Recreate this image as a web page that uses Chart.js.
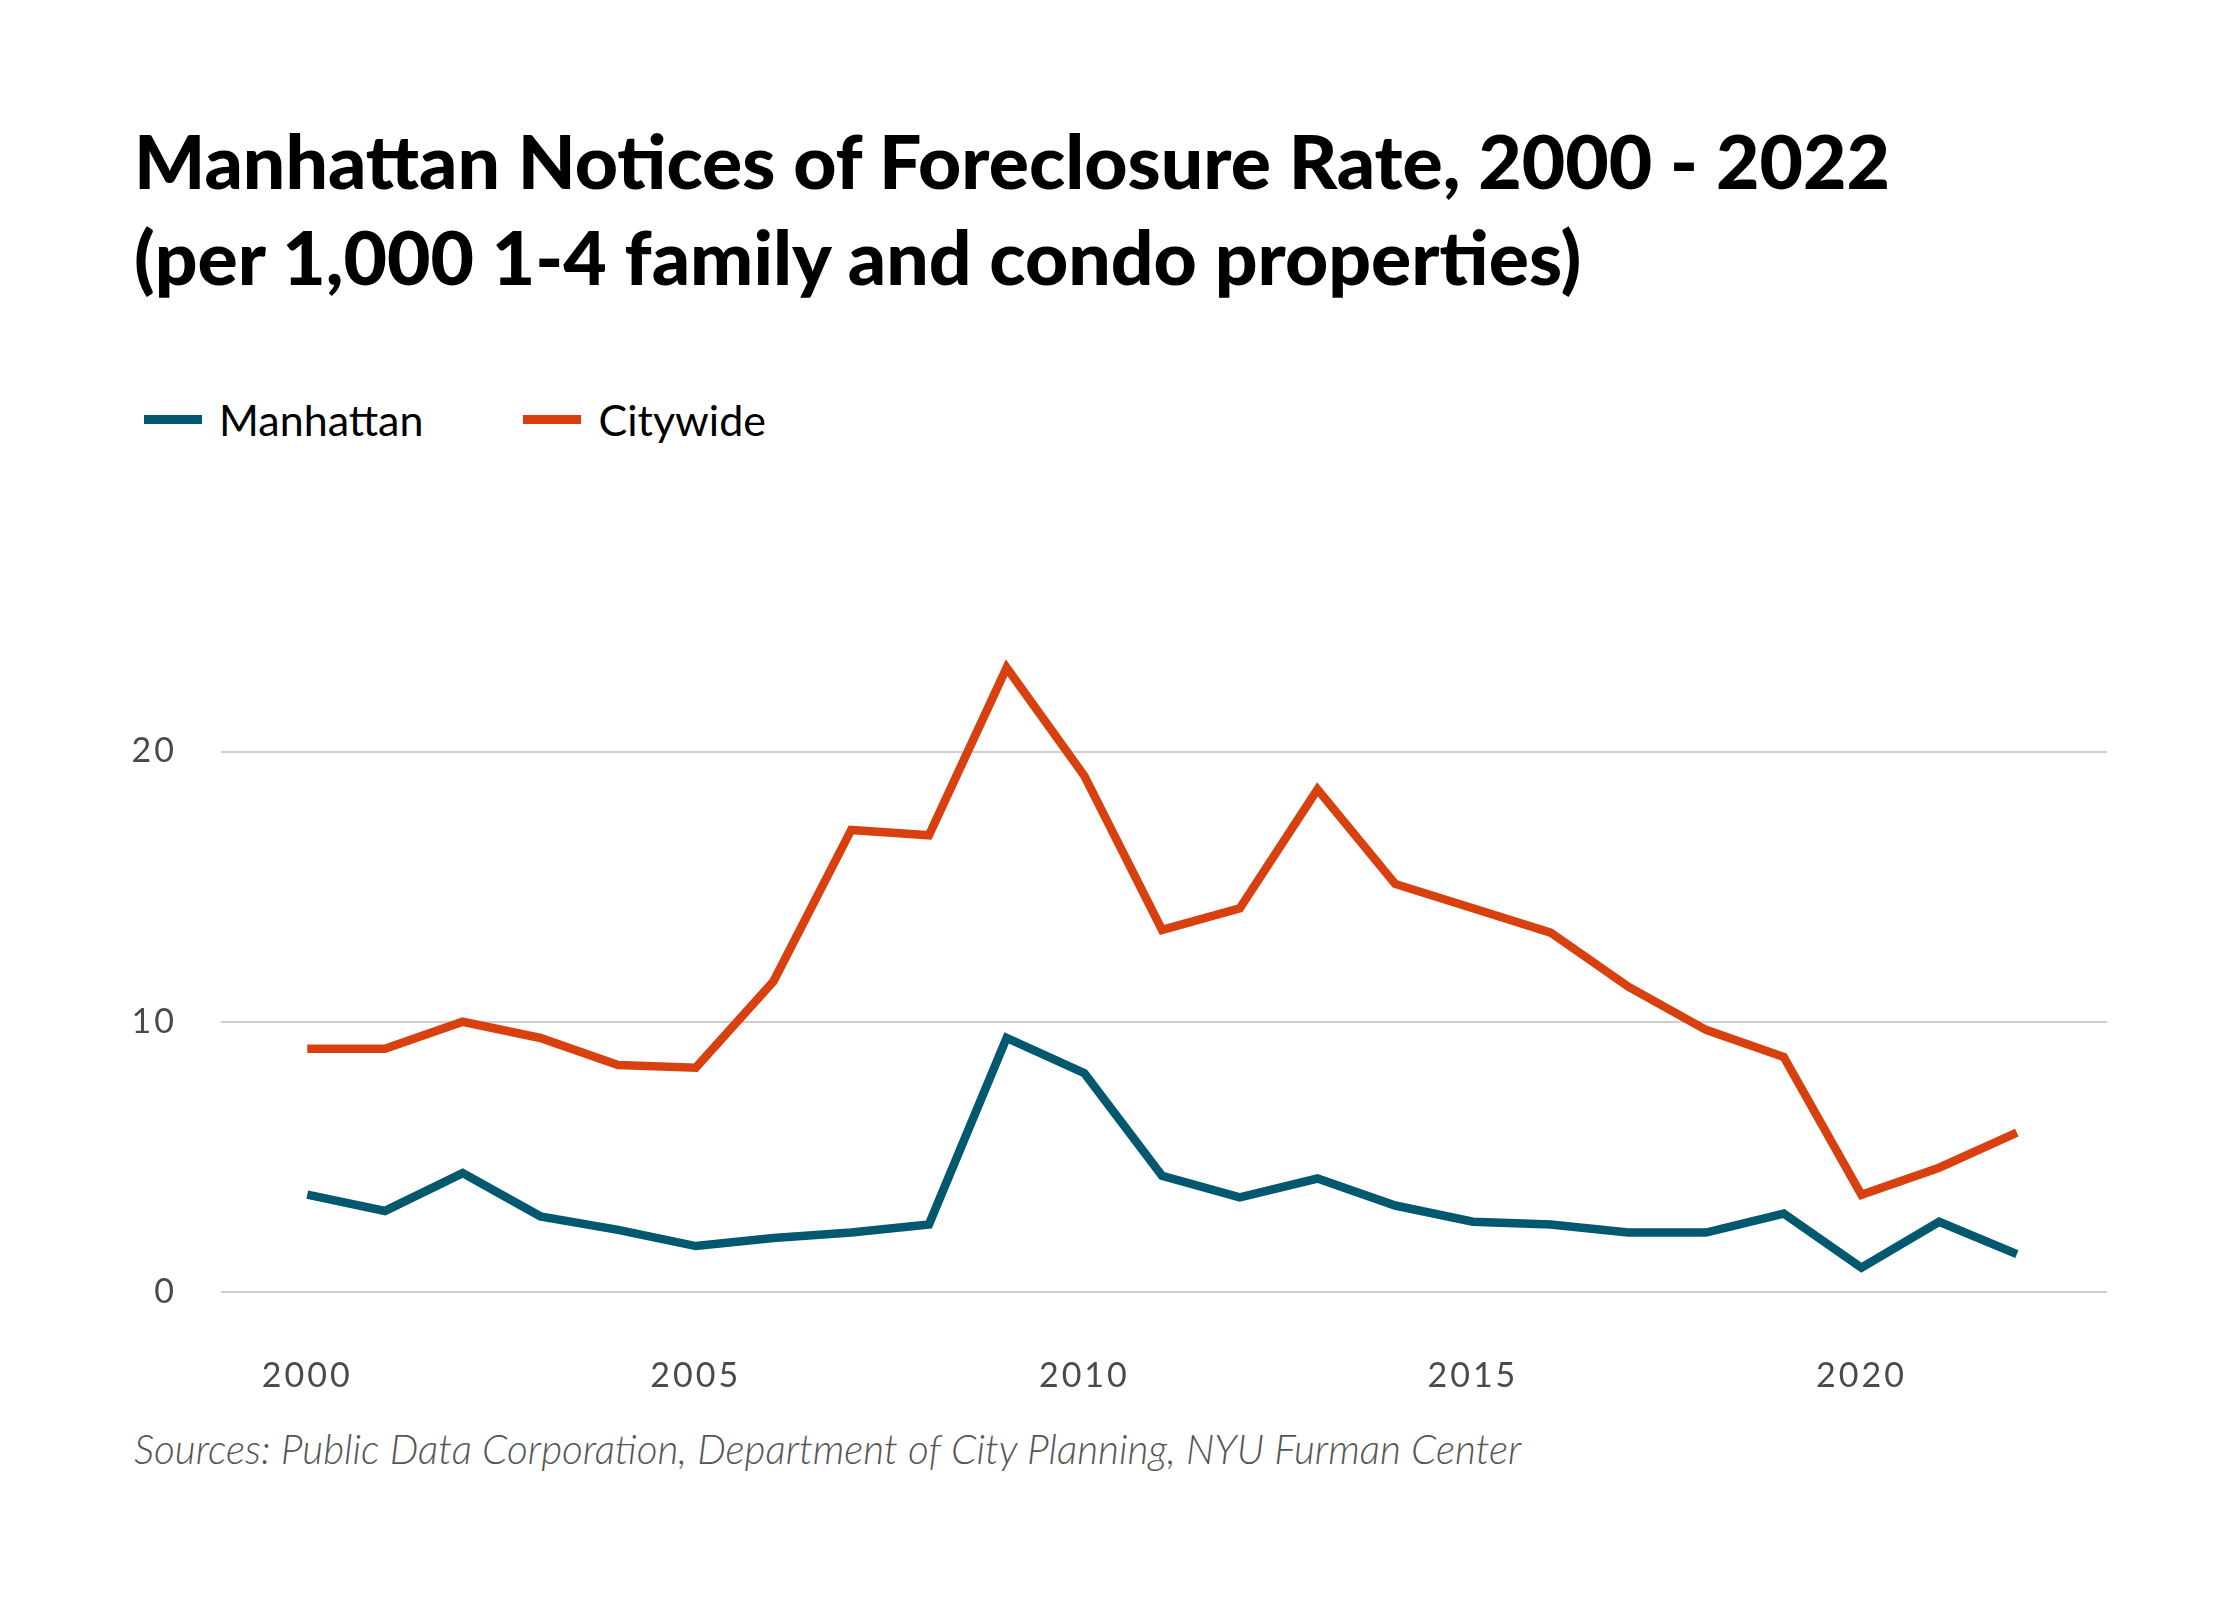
<!DOCTYPE html>
<html>
<head>
<meta charset="utf-8">
<script src="https://cdn.jsdelivr.net/npm/chart.js@4.4.1/dist/chart.umd.min.js"></script>
<style>
  html, body { margin: 0; padding: 0; background: #fff; }
  #page { position: relative; width: 2240px; height: 1600px; background: #fff; overflow: hidden; }
  .title {
    position: absolute; left: 134px; top: 112px; margin: 0;
    font-family: Lato, sans-serif; font-weight: 900; font-size: 75px;
    line-height: 96px; color: #000;
  }
  .legend {
    position: absolute; left: 144px; top: 394px;
    font-family: Lato, sans-serif; font-size: 43px; color: #000;
    display: flex; align-items: center;
  }
  .legend .item { display: flex; align-items: center; margin-right: 100px; }
  .legend .swatch { width: 58px; height: 9px; margin-right: 17px; }
  .source {
    position: absolute; left: 134px; top: 1424px;
    font-family: Lato, sans-serif; font-style: italic; font-weight: 300;
    font-size: 40.5px; color: #555;
  }
  #wrap { position: absolute; left: 0; top: 552px; width: 2240px; height: 850px; }
</style>
</head>
<body>
<div id="page">
  <h1 class="title">Manhattan Notices of Foreclosure Rate, 2000 - 2022<br>(per 1,000 1-4 family and condo properties)</h1>
  <div class="legend" id="legend"></div>
  <div class="source">Sources: Public Data Corporation, Department of City Planning, NYU Furman Center</div>
  <div id="wrap"><canvas id="chart"></canvas></div>
</div>
<script>
// ── Data ──────────────────────────────────────────────────────
const years = [2000, 2001, 2002, 2003, 2004, 2005, 2006, 2007, 2008, 2009, 2010, 2011,
               2012, 2013, 2014, 2015, 2016, 2017, 2018, 2019, 2020, 2021, 2022];
const manhattan = [3.6, 3.0, 4.4, 2.8, 2.3, 1.7, 2.0, 2.2, 2.5, 9.4, 8.1, 4.3,
                   3.5, 4.2, 3.2, 2.6, 2.5, 2.2, 2.2, 2.9, 0.9, 2.6, 1.4];
const citywide = [9.0, 9.0, 10.0, 9.4, 8.4, 8.3, 11.5, 17.1, 16.9, 23.1, 19.1, 13.4,
                  14.2, 18.6, 15.1, 14.2, 13.3, 11.3, 9.7, 8.7, 3.6, 4.6, 5.9];
const xTicks = [2000, 2005, 2010, 2015, 2020];
const yTicks = [0, 10, 20];

const blue = '#01586f';
const red = '#d8410f';

// ── Legend ────────────────────────────────────────────────────
const legend = document.getElementById('legend');
[['Manhattan', blue], ['Citywide', red]].forEach(([name, color]) => {
  const item = document.createElement('div');
  item.className = 'item';
  item.innerHTML = `<span class="swatch" style="background:${color}"></span><span>${name}</span>`;
  legend.appendChild(item);
});

// ── Chart ─────────────────────────────────────────────────────
const toPoints = arr => arr.map((v, i) => ({ x: years[i], y: v }));

// wider tick digits, closer to the reference face
const spacing = {
  id: 'spacing',
  beforeDraw: chart => { chart.ctx.letterSpacing = '3px'; }
};

new Chart(document.getElementById('chart'), {
  type: 'line',
  data: {
    datasets: [
      { label: 'Manhattan', data: toPoints(manhattan), borderColor: blue },
      { label: 'Citywide', data: toPoints(citywide), borderColor: red }
    ]
  },
  plugins: [spacing],
  options: {
    responsive: true, maintainAspectRatio: false, animation: false,
    layout: { padding: { left: 130, right: 133, top: 15, bottom: 0 } },
    elements: {
      line: { borderWidth: 8.5, tension: 0, borderCapStyle: 'butt', borderJoinStyle: 'miter', fill: false },
      point: { radius: 0, hoverRadius: 0 }
    },
    plugins: { legend: { display: false }, tooltip: { enabled: false } },
    scales: {
      x: {
        type: 'linear', min: 1998.89, max: 2023.16,
        afterBuildTicks: s => { s.ticks = xTicks.map(v => ({ value: v })); },
        afterFit: s => { s.height = 110; },
        grid: { display: false, drawTicks: false },
        border: { display: false },
        ticks: {
          padding: 64, color: '#4a4a4a',
          font: { family: 'Lato', size: 34 },
          callback: v => String(v)
        }
      },
      y: {
        min: 0, max: 25,
        afterBuildTicks: s => { s.ticks = yTicks.map(v => ({ value: v })); },
        afterFit: s => { s.width = 91; },
        grid: { color: '#cfcfcf', lineWidth: 2, drawTicks: false },
        border: { display: false },
        ticks: {
          padding: 44, color: '#4a4a4a',
          font: { family: 'Lato', size: 34 }
        }
      }
    }
  }
});
</script>
</body>
</html>
